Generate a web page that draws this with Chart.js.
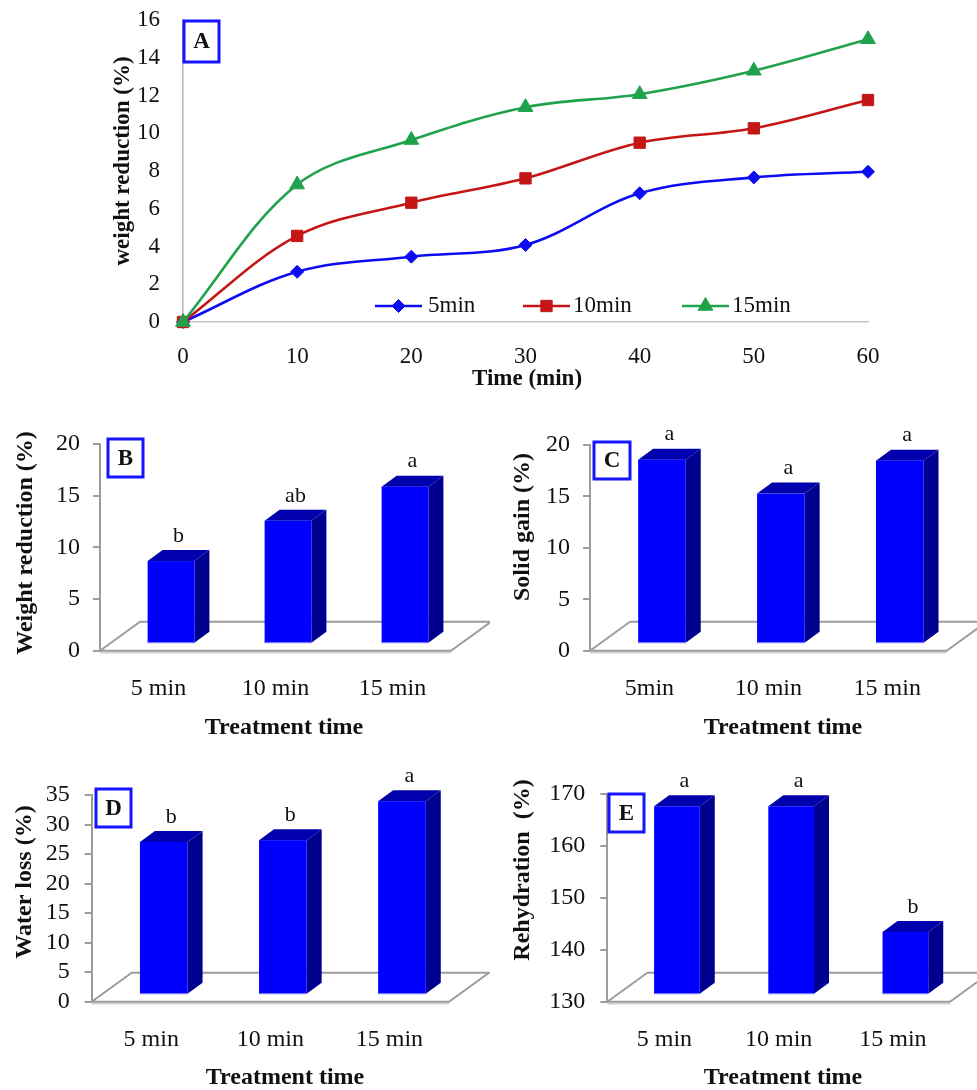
<!DOCTYPE html>
<html><head><meta charset="utf-8">
<script src="https://cdn.jsdelivr.net/npm/chart.js@4.4.0/dist/chart.umd.min.js"></script>
<style>
html,body{margin:0;padding:0;background:#fff;}
body{width:977px;height:1090px;position:relative;overflow:hidden;}
canvas{position:absolute;}
</style></head><body>
<canvas id="cA" width="977" height="398" style="left:0px;top:0px"></canvas>
<canvas id="cB" width="490" height="340" style="left:0px;top:400px"></canvas>
<canvas id="cC" width="487" height="340" style="left:490px;top:400px"></canvas>
<canvas id="cD" width="490" height="320" style="left:0px;top:770px"></canvas>
<canvas id="cE" width="487" height="320" style="left:490px;top:770px"></canvas>
<script>
// ---------- Panel A data ----------
const timeLabels = ['0','10','20','30','40','50','60'];
const seriesNames = ['5min','10min','15min'];
const wr5  = [0, 2.66, 3.46, 4.08, 6.82, 7.66, 7.96];
const wr10 = [0, 4.56, 6.32, 7.61, 9.50, 10.26, 11.76];
const wr15 = [0, 7.28, 9.64, 11.38, 12.07, 13.31, 14.98];
const yTicksA = [0, 2, 4, 6, 8, 10, 12, 14, 16];

// ---------- Panels B-E data ----------
const treatLabels  = ['5 min','10 min','15 min'];
const treatLabelsC = ['5min','10 min','15 min'];
const weightRedB = [7.9, 11.8, 15.1];
const lettersB   = ['b','ab','a'];
const yTicksB    = [0, 5, 10, 15, 20];
const solidGainC = [17.8, 14.5, 17.7];
const lettersC   = ['a','a','a'];
const yTicksC    = [0, 5, 10, 15, 20];
const waterLossD = [25.7, 26.0, 32.6];
const lettersD   = ['b','b','a'];
const yTicksD    = [0, 5, 10, 15, 20, 25, 30, 35];
const rehydE     = [166.1, 166.1, 141.9];
const lettersE   = ['a','a','b'];
const yTicksE    = [130, 140, 150, 160, 170];

const FONT = "'Liberation Serif','Times New Roman',serif";
const INK = '#111';

function txt(ctx, s, x, y, font, rot, align) {
  ctx.save();
  ctx.translate(x, y);
  if (rot) ctx.rotate(rot);
  ctx.font = font; ctx.fillStyle = INK;
  ctx.textAlign = align || 'center'; ctx.textBaseline = 'middle';
  ctx.fillText(s, 0, 0);
  ctx.restore();
}
function box(ctx, letter, x0, y0, x1, y1) {
  ctx.save();
  ctx.fillStyle = '#fff'; ctx.fillRect(x0, y0, x1 - x0, y1 - y0);
  ctx.strokeStyle = '#1414ff'; ctx.lineWidth = 3;
  ctx.strokeRect(x0, y0, x1 - x0, y1 - y0);
  ctx.restore();
  txt(ctx, letter, (x0 + x1) / 2, (y0 + y1) / 2 + 1, 'bold 23px ' + FONT);
}

// ---------- Panel A ----------
(function () {
  const cv = document.getElementById('cA');
  const W = cv.width, H = cv.height;
  const L = 183, T = 20, R = 868, B = 322;
  const styles = [
    {c: '#0c0cf2', p: 'rectRot', r: 6.5},
    {c: '#c41616', p: 'rect', r: 8},
    {c: '#20a24c', p: 'triangle', r: 8.5}
  ];
  const sets = [wr5, wr10, wr15];
  const legendPos = [[375, 422, 428], [523, 570, 573], [682, 729, 732]];
  const deco = {
    id: 'decoA',
    afterDraw(chart) {
      const ctx = chart.ctx;
      txt(ctx, 'weight reduction (%)', 123, 161, 'bold 23px ' + FONT, -Math.PI / 2);
      txt(ctx, 'Time (min)', 527, 379, 'bold 23px ' + FONT);
      box(ctx, 'A', 184, 21, 219, 62);
      const ly = 306;
      seriesNames.forEach((n, i) => {
        const s = styles[i], p = legendPos[i];
        ctx.save();
        ctx.strokeStyle = s.c; ctx.fillStyle = s.c; ctx.lineWidth = 2.6;
        ctx.beginPath(); ctx.moveTo(p[0], ly); ctx.lineTo(p[1], ly); ctx.stroke();
        ctx.lineWidth = 1;
        Chart.helpers.drawPoint(ctx, {pointStyle: s.p, radius: s.r, rotation: 0, borderWidth: 1}, (p[0] + p[1]) / 2, ly);
        ctx.restore();
        txt(ctx, n, p[2], ly, '23px ' + FONT, 0, 'left');
      });
    }
  };
  new Chart(cv, {
    type: 'line',
    data: {
      labels: timeLabels,
      datasets: sets.map((d, i) => ({
        label: seriesNames[i], data: d,
        borderColor: styles[i].c, backgroundColor: styles[i].c,
        pointBackgroundColor: styles[i].c, pointBorderColor: styles[i].c,
        pointStyle: styles[i].p, pointRadius: styles[i].r, pointBorderWidth: 1,
        borderWidth: 2.6, tension: 0.35, clip: false, fill: false,
        order: 2 - i
      }))
    },
    options: {
      responsive: false, animation: false, devicePixelRatio: 1,
      layout: {autoPadding: false, padding: {left: 0, top: T, right: W - R, bottom: 0}},
      plugins: {legend: {display: false}, tooltip: {enabled: false}},
      scales: {
        x: {
          grid: {display: false, drawTicks: false},
          border: {display: true, color: '#c4c4c4', width: 1.5},
          ticks: {font: {family: FONT, size: 23}, color: INK, padding: 21, maxRotation: 0, autoSkip: false},
          afterFit(s) { s.height = H - B; }
        },
        y: {
          min: 0, max: 16,
          grid: {display: true, drawOnChartArea: false, drawTicks: true, tickLength: 23, tickColor: 'rgba(0,0,0,0)'},
          border: {display: true, color: '#b4b4b4', width: 1.5},
          ticks: {font: {family: FONT, size: 23}, color: INK, padding: 0, autoSkip: false},
          afterBuildTicks(s) { s.ticks = yTicksA.map(v => ({value: v})); },
          afterFit(s) { s.width = L; }
        }
      }
    },
    plugins: [deco]
  });
})();

// ---------- 3D bar panels ----------
const FLOOR_DX = 40, FLOOR_DY = -29;
const BAR_DX = 12.5, BAR_DY = -8;
const DEPTH_DX = 15, DEPTH_DY = -11;
const TICK_MARK = 7;

function makeBar(id, off, area, labels, values, letters, yTicks, yGap, texts) {
  const cv = document.getElementById(id);
  const W = cv.width, H = cv.height;
  const L = area[0] - off[0], T = area[1] - off[1], R = area[2] - off[0], B = area[3] - off[1];
  const yMin = yTicks[0], yMax = yTicks[yTicks.length - 1];
  const plug = {
    id: 'bar3d',
    beforeDatasetsDraw(chart) {
      const {ctx, chartArea: {left, right}, scales: {y}} = chart;
      const y0 = y.getPixelForValue(y.min);
      ctx.save();
      // tick marks on the value axis
      ctx.strokeStyle = '#9c9c9c'; ctx.lineWidth = 2;
      y.ticks.forEach(tk => {
        const py = Math.round(y.getPixelForValue(tk.value));
        ctx.beginPath(); ctx.moveTo(left - TICK_MARK, py); ctx.lineTo(left, py); ctx.stroke();
      });
      // floor
      ctx.lineJoin = 'round';
      ctx.beginPath();
      ctx.moveTo(left, y0); ctx.lineTo(left + FLOOR_DX, y0 + FLOOR_DY);
      ctx.lineTo(right + FLOOR_DX, y0 + FLOOR_DY); ctx.lineTo(right, y0);
      ctx.closePath(); ctx.stroke();
      ctx.strokeStyle = '#d2d2d2'; ctx.lineWidth = 1.5;
      ctx.beginPath(); ctx.moveTo(left, y0 + 2); ctx.lineTo(right, y0 + 2); ctx.stroke();
      ctx.restore();
    },
    afterDatasetsDraw(chart) {
      const {ctx, scales: {y: ys}} = chart;
      const basePx = ys.getPixelForValue(ys.min);
      const meta = chart.getDatasetMeta(0);
      meta.data.forEach((el, i) => {
        const {x, width} = el.getProps(['x', 'width'], true);
        const y = ys.getPixelForValue(values[i]);
        const l = x - width / 2 + BAR_DX, r = x + width / 2 + BAR_DX;
        const t = y + BAR_DY, b = basePx + BAR_DY;
        ctx.save();
        ctx.fillStyle = '#00008e';
        ctx.beginPath();
        ctx.moveTo(r, b); ctx.lineTo(r, t); ctx.lineTo(r + DEPTH_DX, t + DEPTH_DY);
        ctx.lineTo(r + DEPTH_DX, b + DEPTH_DY); ctx.closePath(); ctx.fill();
        ctx.fillStyle = '#0000ad';
        ctx.beginPath();
        ctx.moveTo(l, t); ctx.lineTo(r, t); ctx.lineTo(r + DEPTH_DX, t + DEPTH_DY);
        ctx.lineTo(l + DEPTH_DX, t + DEPTH_DY); ctx.closePath(); ctx.fill();
        ctx.fillStyle = '#0000ff';
        ctx.fillRect(l, t, r - l, b - t);
        ctx.strokeStyle = '#7a7aff'; ctx.lineWidth = 1.2;
        ctx.beginPath(); ctx.moveTo(l, b); ctx.lineTo(r, b); ctx.stroke();
        ctx.restore();
        txt(ctx, letters[i], (l + r + DEPTH_DX) / 2, t + DEPTH_DY - 14, '22px ' + FONT);
      });
    },
    afterDraw(chart) {
      const ctx = chart.ctx;
      texts.forEach(t => {
        if (t.box) box(ctx, t.box, t.b[0] - off[0], t.b[1] - off[1], t.b[2] - off[0], t.b[3] - off[1]);
        else txt(ctx, t.s, t.x - off[0], t.y - off[1], 'bold 24px ' + FONT, t.rot ? -Math.PI / 2 : 0);
      });
    }
  };
  new Chart(cv, {
    type: 'bar',
    data: {labels, datasets: [{data: values, base: yMin, backgroundColor: 'rgba(0,0,0,0)', borderWidth: 0, barPercentage: 0.4, categoryPercentage: 1}]},
    options: {
      responsive: false, animation: false, devicePixelRatio: 1,
      layout: {autoPadding: false, padding: {left: 0, top: T, right: W - R, bottom: 0}},
      plugins: {legend: {display: false}, tooltip: {enabled: false}},
      scales: {
        x: {
          grid: {display: false, drawTicks: false}, border: {display: false},
          ticks: {font: {family: FONT, size: 24}, color: INK, padding: 24, maxRotation: 0, autoSkip: false},
          afterFit(s) { s.height = H - B; }
        },
        y: {
          min: yMin, max: yMax, beginAtZero: false,
          grid: {display: true, drawOnChartArea: false, drawTicks: true, tickLength: yGap, tickColor: 'rgba(0,0,0,0)'},
          border: {display: true, color: '#9c9c9c', width: 2},
          ticks: {font: {family: FONT, size: 24}, color: INK, padding: 0, autoSkip: false},
          afterBuildTicks(s) { s.ticks = yTicks.map(v => ({value: v})); },
          afterFit(s) { s.width = L; }
        }
      }
    },
    plugins: [plug]
  });
}

makeBar('cB', [0, 400], [100, 444, 451, 650.7], treatLabels, weightRedB, lettersB, yTicksB, 20, [
  {s: 'Weight reduction (%)', x: 26, y: 543, rot: true},
  {s: 'Treatment time', x: 284, y: 728},
  {box: 'B', b: [108, 439, 143, 477]}
]);
makeBar('cC', [490, 400], [590, 445, 946.7, 650.7], treatLabelsC, solidGainC, lettersC, yTicksC, 20, [
  {s: 'Solid gain (%)', x: 523, y: 527, rot: true},
  {s: 'Treatment time', x: 783, y: 728},
  {box: 'C', b: [594, 442, 630, 479]}
]);
makeBar('cD', [0, 770], [91.7, 795, 449, 1001.7], treatLabels, waterLossD, lettersD, yTicksD, 22, [
  {s: 'Water loss (%)', x: 25, y: 882, rot: true},
  {s: 'Treatment time', x: 285, y: 1078},
  {box: 'D', b: [96, 789, 131, 827]}
]);
makeBar('cE', [490, 770], [607.3, 794, 950, 1001.7], treatLabels, rehydE, lettersE, yTicksE, 22, [
  {s: 'Rehydration  (%)', x: 523, y: 870, rot: true},
  {s: 'Treatment time', x: 783, y: 1078},
  {box: 'E', b: [609, 794, 644, 832]}
]);
</script>
</body></html>
